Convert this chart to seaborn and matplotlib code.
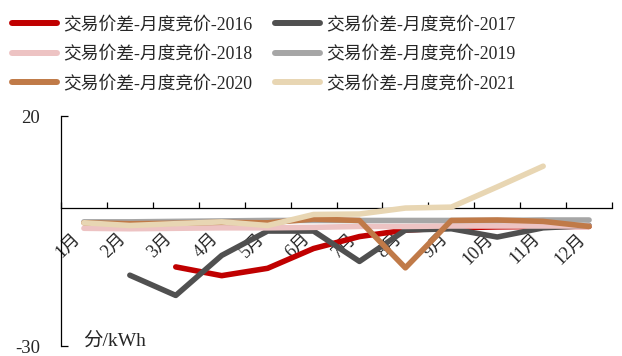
import numpy as np
import pandas as pd
import matplotlib
matplotlib.use("Agg")
import matplotlib.pyplot as plt
from matplotlib.lines import Line2D
import seaborn as sns

months = ["1月", "2月", "3月", "4月", "5月", "6月", "7月", "8月", "9月", "10月", "11月", "12月"]
series_names = ["交易价差-月度竞价-2016", "交易价差-月度竞价-2017", "交易价差-月度竞价-2018",
                "交易价差-月度竞价-2019", "交易价差-月度竞价-2020", "交易价差-月度竞价-2021"]
nan = np.nan
v2016 = [nan, nan, -12.8, -14.7, -13.1, -8.8, -6.2, -4.8, -4.3, -4.1, -4.0, -4.0]
v2017 = [nan, -14.6, -19.0, -10.3, -5.0, -5.0, -11.6, -4.8, -4.5, -6.3, -4.3, -3.8]
v2018 = [-4.4, -4.5, -4.4, -4.3, -4.3, -4.2, -4.0, -4.0, -3.9, -3.9, -3.9, -3.9]
v2019 = [-3.0, -3.0, -2.9, -2.8, -2.7, -2.7, -2.7, -2.7, -2.7, -2.7, -2.6, -2.6]
v2020 = [-3.2, -3.4, -3.3, -3.1, -3.2, -2.4, -2.7, -13.0, -2.7, -2.6, -2.9, -4.0]
v2021 = [-3.2, -3.8, -3.4, -3.0, -3.8, -1.4, -1.3, 0.0, 0.2, 4.6, 9.1, nan]
colors = ["#C00000", "#505050", "#EDC3C3", "#A6A6A6", "#C07A48", "#E8D6B3"]
y_ticks = [-30, 20]

values = [v2016, v2017, v2018, v2019, v2020, v2021]
df = pd.DataFrame({
    "month": np.tile(np.arange(len(months)), len(series_names)),
    "value": np.concatenate(values),
    "series": np.repeat(series_names, len(months)),
}).dropna()

sns.set_theme(style="white")
plt.rcParams["font.family"] = ["Liberation Serif", "Noto Sans CJK SC"]

fig = plt.figure(figsize=(6.22, 3.56), dpi=100)
ax = fig.add_axes([0.098, 0.028, 0.886, 0.646])

sns.lineplot(data=df, x="month", y="value", hue="series", hue_order=series_names,
             palette=colors, linewidth=4.0, sort=False, legend=False, ax=ax,
             solid_capstyle="round", solid_joinstyle="round")

ax.set_xlim(-0.5, len(months) - 0.5)
ax.set_ylim(-30, 20)
ax.set_xlabel("")
ax.set_ylabel("")

for s in ("top", "right"):
    ax.spines[s].set_visible(False)
for s in ("left", "bottom"):
    ax.spines[s].set_color("black")
    ax.spines[s].set_linewidth(0.9)
ax.spines["bottom"].set_position(("data", 0))
ax.spines["bottom"].set_zorder(0.5)

ax.set_yticks(y_ticks)
ax.set_yticklabels([str(t) for t in y_ticks], fontsize=13.5)
ax.tick_params(axis="y", direction="in", length=5, width=0.9, color="black", pad=15, left=True)

ax.set_xticks(np.arange(len(months)))
ax.set_xticks(np.arange(len(months) + 1) - 0.5, minor=True)
ax.set_xticklabels(months, fontsize=13, rotation=45, ha="right", va="top")
ax.tick_params(axis="x", which="major", length=0, pad=16, bottom=True)
ax.tick_params(axis="x", which="minor", direction="in", length=4, width=0.9,
               color="black", bottom=True)

fig.text(0.133, 0.03, "分/kWh", fontsize=14, ha="left", va="baseline")

# two columns filled row by row
order = [0, 2, 4, 1, 3, 5]
handles = [Line2D([0], [0], color=colors[i], lw=4.3, solid_capstyle="round") for i in order]
labels = [series_names[i] for i in order]
fig.legend(handles, labels, loc="upper left", bbox_to_anchor=(0.0, 0.99),
           ncol=2, frameon=False, fontsize=12.8, handlelength=2.5, handletextpad=0.35,
           columnspacing=1.3, labelspacing=0.72, borderaxespad=0.3)

fig.savefig("out.png", dpi=100, facecolor="white")
